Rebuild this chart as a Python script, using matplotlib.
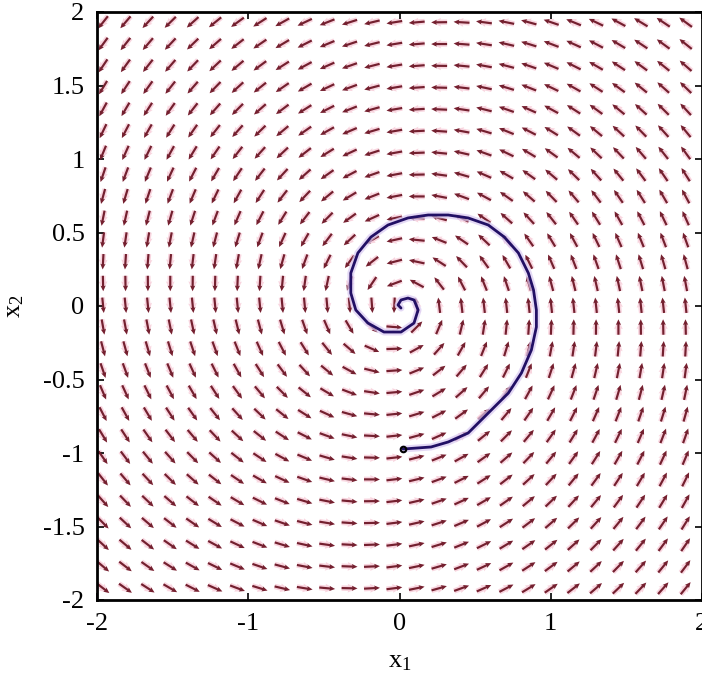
import numpy as np
import matplotlib
matplotlib.use("Agg")
import matplotlib.pyplot as plt

# ---- data ----
# linear system  x' = A x  (stable focus, counter-clockwise)
A = np.array([[-0.10, -1.00],
              [1.00, -0.15]])

# field sample positions
grid_x = np.linspace(-1.96, 2.04, 28)
grid_y = np.linspace(-1.92, 1.93, 27)

# trajectory (starts at (0, -1), spirals in)
traj_x = [0.023, 0.209, 0.322, 0.454, 0.587, 0.720, 0.806, 0.872, 0.905, 0.905,
          0.886, 0.852, 0.786, 0.693, 0.587, 0.454, 0.322, 0.189, 0.056, -0.076,
          -0.189, -0.275, -0.322, -0.322, -0.289, -0.209, -0.103, 0.010, 0.096,
          0.123, 0.096, 0.056, 0.010, -0.010, 0.010]
traj_y = [-0.973, -0.959, -0.925, -0.864, -0.728, -0.592, -0.456, -0.299, -0.143,
          -0.027, 0.109, 0.224, 0.361, 0.469, 0.551, 0.599, 0.619, 0.619, 0.599,
          0.551, 0.469, 0.361, 0.224, 0.088, -0.027, -0.116, -0.177, -0.177,
          -0.116, -0.027, 0.041, 0.054, 0.041, 0.007, -0.014]

xticks = [-2, -1, 0, 1, 2]
yticks = [-2, -1.5, -1, -0.5, 0, 0.5, 1, 1.5, 2]
ytick_labels = ["-2", "-1.5", "-1", "-0.5", "0", "0.5", "1", "1.5", "2"]

# ---- style ----
plt.rcParams["font.family"] = ["Liberation Serif", "DejaVu Serif"]
plt.rcParams["mathtext.fontset"] = "custom"
plt.rcParams["mathtext.rm"] = "Liberation Serif"
plt.rcParams["mathtext.default"] = "regular"
plt.rcParams["axes.unicode_minus"] = False

fig = plt.figure(figsize=(7.02, 6.73), dpi=100)
ax = fig.add_axes([97 / 702, 73 / 673, 605 / 702, 588 / 673])

# ---- direction field (normalised arrows) ----
X, Y = np.meshgrid(grid_x, grid_y)
U = A[0, 0] * X + A[0, 1] * Y
V = A[1, 0] * X + A[1, 1] * Y
n = np.hypot(U, V)
n[n == 0] = 1
U, V = U / n, V / n

# soft pink halo underneath, then the dark red arrows
ax.quiver(X, Y, U, V, angles="xy", scale_units="xy", scale=1 / 0.105,
          pivot="mid", color="#f7cbd7", width=0.009, headwidth=1.6,
          headlength=1.8, headaxislength=1.7, alpha=0.8, zorder=1)
ax.quiver(X, Y, U, V, angles="xy", scale_units="xy", scale=1 / 0.105,
          pivot="mid", color="#74202f", width=0.0036, headwidth=2.4,
          headlength=2.6, headaxislength=2.3, zorder=2)

# ---- trajectory ----
ax.plot(traj_x, traj_y, color="#d9c9f2", lw=5, alpha=0.7, zorder=3,
        solid_capstyle="round", solid_joinstyle="round")
ax.plot(traj_x, traj_y, color="#221065", lw=2, zorder=4,
        solid_capstyle="round", solid_joinstyle="round")
ax.plot(traj_x[0], traj_y[0], "o", ms=4, mfc="none", mec="black", mew=1.5,
        zorder=5)

# ---- axes ----
ax.set_xlim(-2, 2)
ax.set_ylim(-2, 2)
ax.set_xticks(xticks)
ax.set_yticks(yticks)
ax.set_yticklabels(ytick_labels)
ax.tick_params(direction="in", length=5, width=1.2, labelsize=19,
               top=True, right=True, pad=9)
for s in ax.spines.values():
    s.set_linewidth(2)
ax.set_xlabel("x$_1$", fontsize=19, labelpad=12)
ax.set_ylabel("x$_2$", fontsize=19, labelpad=12)

fig.savefig("out.png", dpi=100)
